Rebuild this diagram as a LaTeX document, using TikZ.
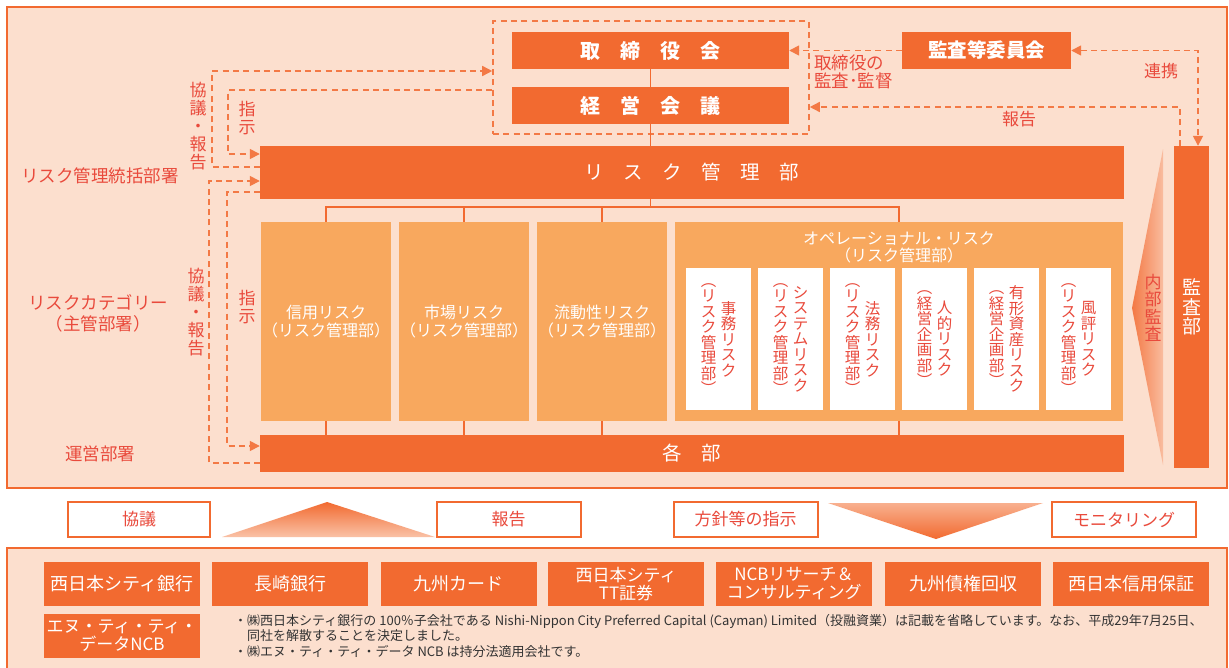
\documentclass[tikz,border=0pt]{standalone}
\usepackage{fontspec}
\setmainfont{Noto Sans CJK JP}
\usetikzlibrary{arrows.meta,calc}
\definecolor{OR}{HTML}{F26A30}
\definecolor{LO}{HTML}{F8A85E}
\definecolor{PC}{HTML}{FCDFCE}
\definecolor{RD}{HTML}{E94A3C}
\definecolor{TX}{HTML}{333333}
\begin{document}
\begin{tikzpicture}[x=1pt,y=-1pt,
 obox/.style={fill=OR, text=white, inner sep=0pt, align=center},
 lbox/.style={fill=LO, text=white, inner sep=0pt, align=center},
 wbox/.style={fill=white, inner sep=0pt},
 tbox/.style={draw=OR, line width=2pt, fill=white, text=RD, inner sep=0pt},
 lbl/.style={text=RD, inner sep=0pt, align=center},
 vtx/.style={text=RD, inner sep=0pt, align=center, font=\fontsize{15.5}{15.5}\selectfont},
 dline/.style={draw=OR!90!white, line width=1.6pt, dash pattern=on 6pt off 4.3pt},
 arr/.style={-{Triangle[length=10pt,width=10pt]}},
 arrs/.style={{Triangle[length=10pt,width=10pt]}-{Triangle[length=10pt,width=10pt]}},
 tline/.style={draw=OR, line width=1.3pt},
 comp/.style={obox, minimum width=156, minimum height=44, font=\fontsize{18}{19}\selectfont},
]
\useasboundingbox (0,0) rectangle (1229,667);
\clip (0,0) rectangle (1229,667);
\fill[white] (0,0) rectangle (1229,667);
% frames
\draw[OR, line width=2.5pt, fill=PC] (7,7) rectangle (1227,488);
\draw[OR, line width=2.5pt, fill=PC] (7,548) rectangle (1227,700);

% board group
\node[dline, minimum width=316, minimum height=113, inner sep=0pt] (boardgrp) at (651,77.5) {};
\node[obox, minimum width=277, minimum height=37, font=\fontsize{20}{20}\selectfont\bfseries] (tori) at (650.5,50.5) {取　締　役　会};
\node[obox, minimum width=277, minimum height=37, font=\fontsize{20}{20}\selectfont\bfseries] (keiei) at (650.5,105.5) {経　営　会　議};
\node[obox, minimum width=864, minimum height=53, font=\fontsize{19.5}{20}\selectfont] (risk) at (692,172.5) {リ　ス　ク　管　理　部};
\node[obox, minimum width=169, minimum height=37, font=\fontsize{19.5}{20}\selectfont\bfseries] (kansaiin) at (986.5,50.5) {監査等委員会};
\node[obox, minimum width=35, minimum height=322, font=\fontsize{19}{19.5}\selectfont] (kansabu) at (1191.5,307) {監\\査\\部};

% internal audit wedge
\shade[left color=OR!90, right color=OR!30!PC] (1163,149) -- (1132,308) -- (1163,465) -- cycle;
\node[lbl, font=\fontsize{17}{17.5}\selectfont] (naibu) at (1153,308) {内\\部\\監\\査};

% categories
\node[lbox, minimum width=130, minimum height=199, font=\fontsize{16}{18}\selectfont] (shinyo) at (326,321.5) {信用リスク\\（リスク管理部）};
\node[lbox, minimum width=130, minimum height=199, font=\fontsize{16}{18}\selectfont] (shijo) at (464,321.5) {市場リスク\\（リスク管理部）};
\node[lbox, minimum width=130, minimum height=199, font=\fontsize{16}{18}\selectfont] (ryudo) at (602,321.5) {流動性リスク\\（リスク管理部）};
\node[lbox, minimum width=448, minimum height=199] (op) at (899,321.5) {};
\node[lbl, text=white, font=\fontsize{16}{17}\selectfont] (optitle) at (899,247.5) {オペレーショナル・リスク\\（リスク管理部）};

\foreach \i/\cx in {1/718.5,2/790.5,3/862.5,4/934.5,5/1006.5,6/1078.5}
  \node[wbox, minimum width=65, minimum height=142] (w\i) at (\cx,339) {};
\node[vtx] (r1) at ($(w1.center)+(10,0)$) {事\\務\\リ\\ス\\ク};
\node[vtx] (l1) at ($(w1.center)+(-10,0)$) {︵\\リ\\ス\\ク\\管\\理\\部\\︶};
\node[vtx] (r2) at ($(w2.center)+(10,0)$) {シ\\ス\\テ\\ム\\リ\\ス\\ク};
\node[vtx] (l2) at ($(w2.center)+(-10,0)$) {︵\\リ\\ス\\ク\\管\\理\\部\\︶};
\node[vtx] (r3) at ($(w3.center)+(10,0)$) {法\\務\\リ\\ス\\ク};
\node[vtx] (l3) at ($(w3.center)+(-10,0)$) {︵\\リ\\ス\\ク\\管\\理\\部\\︶};
\node[vtx] (r4) at ($(w4.center)+(10,0)$) {人\\的\\リ\\ス\\ク};
\node[vtx] (l4) at ($(w4.center)+(-10,0)$) {︵\\経\\営\\企\\画\\部\\︶};
\node[vtx] (r5) at ($(w5.center)+(10,0)$) {有\\形\\資\\産\\リ\\ス\\ク};
\node[vtx] (l5) at ($(w5.center)+(-10,0)$) {︵\\経\\営\\企\\画\\部\\︶};
\node[vtx] (r6) at ($(w6.center)+(10,0)$) {風\\評\\リ\\ス\\ク};
\node[vtx] (l6) at ($(w6.center)+(-10,0)$) {︵\\リ\\ス\\ク\\管\\理\\部\\︶};

\node[obox, minimum width=864, minimum height=37, font=\fontsize{19.5}{20}\selectfont] (kakubu) at (692,453.5) {各　部};

% tree connectors
\coordinate (bus) at (650.5,207);
\draw[tline] (tori.south) -- (keiei.north);
\draw[tline] (keiei.south) -- (keiei.south |- risk.north);
\draw[tline] (risk.south -| bus) -- (bus);
\draw[tline] (shinyo.north) |- (op.north |- bus) -- (op.north);
\draw[tline] (shijo.north) -- (shijo.north |- bus);
\draw[tline] (ryudo.north) -- (ryudo.north |- bus);
\foreach \n in {shinyo,shijo,ryudo,op}
  \draw[tline] (\n.south) -- (\n.south |- kakubu.north);

% dashed connectors left
\draw[dline, arr] (risk.west |- 0,167) -| (212,71) -- (boardgrp.west |- 0,71);
\draw[dline, arr] (boardgrp.west |- 0,90) -| (228,154) -- (risk.west |- 0,154);
\draw[dline, arr] (kakubu.west |- 0,463) -| (209,181) -- (risk.west |- 0,181);
\draw[dline, arr] (risk.west |- 0,192) -| (227,446) -- (kakubu.west |- 0,446);
% dashed connectors right
\draw[dline, arr] (kansaiin.west) -- (tori.east);
\draw[dline, arrs] (kansaiin.east) -| (kansabu.north -| 1198,0);
\draw[dline, arr] (kansabu.north -| 1180,0) |- (boardgrp.east |- 0,107);

% labels
\node[lbl, font=\fontsize{17.5}{18}\selectfont] (lab1) at (100,176) {リスク管理統括部署};
\node[lbl, font=\fontsize{17.5}{21}\selectfont] (lab2) at (98,313) {リスクカテゴリー\\（主管部署）};
\node[lbl, font=\fontsize{17.5}{18}\selectfont] (lab3) at (100,454) {運営部署};
\node[lbl, font=\fontsize{17}{18}\selectfont] (kr1) at (198,126) {協\\議\\・\\報\\告};
\node[lbl, font=\fontsize{17}{18}\selectfont] (sj1) at (247,118) {指\\示};
\node[lbl, font=\fontsize{17}{18}\selectfont] (kr2) at (196,312) {協\\議\\・\\報\\告};
\node[lbl, font=\fontsize{17}{18}\selectfont] (sj2) at (247,307) {指\\示};
\node[lbl, align=left, anchor=west, font=\fontsize{17.5}{17.5}\selectfont] (kansalab) at (814,72) {取締役の\\監査･監督};
\node[lbl, font=\fontsize{17}{17}\selectfont] (renkei) at (1161,71) {連携};
\node[lbl, font=\fontsize{17}{17}\selectfont] (hokoku) at (1019,119.5) {報告};

% middle band
\node[tbox, minimum width=142, minimum height=35, font=\fontsize{17}{17}\selectfont] (kyogi) at (139,519.5) {協議};
\node[tbox, minimum width=144, minimum height=35, font=\fontsize{17}{17}\selectfont] (hokoku2) at (508.5,519.5) {報告};
\node[tbox, minimum width=144, minimum height=35, font=\fontsize{17}{17}\selectfont] (hoshin) at (745.5,519.5) {方針等の指示};
\node[tbox, minimum width=144, minimum height=35, font=\fontsize{17}{17}\selectfont] (monitor) at (1124,519.5) {モニタリング};
\shade[top color=OR, bottom color=OR!25!PC] (222,537) -- (327,502) -- (435,537) -- cycle;
\shade[top color=OR!40!PC, bottom color=OR] (828,503) -- (1043,503) -- (936,539) -- cycle;

% companies
\node[comp] (c1) at (122,584) {西日本シティ銀行};
\node[comp] (c2) at (290,584) {長崎銀行};
\node[comp] (c3) at (458.5,584) {九州カード};
\node[comp, font=\fontsize{17}{18}\selectfont] (c4) at (626,584) {西日本シティ\\TT証券};
\node[comp, font=\fontsize{17}{18}\selectfont] (c5) at (794,584) {NCBリサーチ＆\\コンサルティング};
\node[comp] (c6) at (963,584) {九州債権回収};
\node[comp] (c7) at (1131,584) {西日本信用保証};
\node[comp, font=\fontsize{17}{18}\selectfont] (c8) at (122,636) {エヌ・ティ・ティ・\\データNCB};

\node[anchor=north west, align=left, inner sep=0pt, text=TX, font=\fontsize{13}{15.5}\selectfont] (note) at (234,614)
 {・㈱西日本シティ銀行の 100％子会社である Nishi-Nippon City Preferred Capital (Cayman) Limited（投融資業）は記載を省略しています。なお、平成29年7月25日、\\
 　同社を解散することを決定しました。\\
 ・㈱エヌ・ティ・ティ・データ NCB は持分法適用会社です。};
\end{tikzpicture}
\end{document}
